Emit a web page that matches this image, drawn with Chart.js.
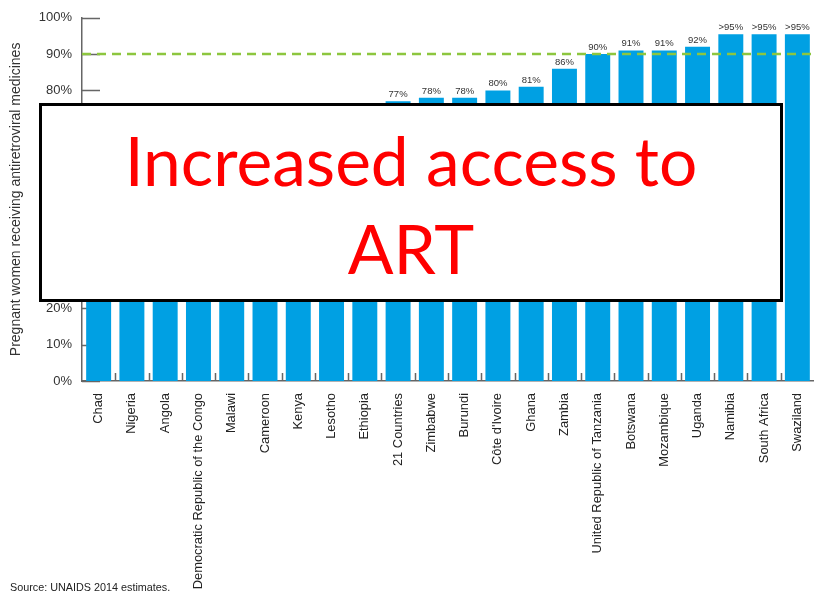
<!DOCTYPE html>
<html>
<head>
<meta charset="utf-8">
<script src="https://cdn.jsdelivr.net/npm/chart.js@4.4.1/dist/chart.umd.min.js"></script>
<style>
  html, body { margin: 0; padding: 0; background: #fff; }
  #wrap { position: relative; width: 814px; height: 592px; overflow: hidden; }
  #myChart { position: absolute; left: 0; top: 0; }
  #banner {
    position: absolute; left: 39px; top: 103px; width: 744px; height: 199px;
    box-sizing: border-box; border: 3px solid #000; background: #fff;
    color: #ff0000; font-family: Lato, "Open Sans", sans-serif; font-size: 67.7px;
    line-height: 88px; text-align: center; padding-top: 10px;
  }
  #source {
    position: absolute; left: 10px; top: 581px;
    font-family: "Liberation Sans", Arial, sans-serif; font-size: 10.8px; color: #222;
  }
</style>
</head>
<body>
<div id="wrap">
  <canvas id="myChart" width="814" height="592"></canvas>
  <div id="banner">Increased access to<br>ART</div>
  <div id="source">Source: UNAIDS 2014 estimates.</div>
</div>
<script>
// Countries, sorted by coverage
const countries = [
    "Chad", "Nigeria", "Angola", "Democratic Republic of the Congo", "Malawi",
    "Cameroon", "Kenya", "Lesotho", "Ethiopia", "21 Countries", "Zimbabwe",
    "Burundi", "Côte d'Ivoire", "Ghana", "Zambia", "United Republic of Tanzania",
    "Botswana", "Mozambique", "Uganda", "Namibia", "South Africa", "Swaziland"
];
// % of pregnant women receiving antiretroviral medicines
const coverage = [26, 27, 38, 46, 55, 62, 66, 69, 73, 77, 78, 78, 80, 81, 86, 90, 91, 91, 92, 95.5, 95.5, 95.5];
const yTicks = [0, 10, 20, 30, 40, 50, 60, 70, 80, 90, 100];
const target = 90;

const barColor = "#00a0e3";
const axisColor = "#666";
const font = "Liberation Sans";

function pctLabel(v) {
    return v > 95 ? ">95%" : Math.round(v) + "%";
}

// inward tick marks on both axes, drawn behind the bars
const innerTicks = {
    id: "innerTicks",
    beforeDatasetsDraw(chart) {
        const { ctx, chartArea, scales } = chart;
        ctx.save();
        ctx.strokeStyle = axisColor;
        ctx.lineWidth = 1.5;
        ctx.beginPath();
        yTicks.forEach(t => {
            const y = Math.round(scales.y.getPixelForValue(t)) + 0.5;
            ctx.moveTo(chartArea.left, y);
            ctx.lineTo(chartArea.left + 18, y);
        });
        for (let i = 0; i < countries.length - 1; i++) {
            const x = Math.round((scales.x.getPixelForTick(i) + scales.x.getPixelForTick(i + 1)) / 2) + 0.5;
            ctx.moveTo(x, chartArea.bottom);
            ctx.lineTo(x, chartArea.bottom - 8);
        }
        ctx.stroke();
        ctx.restore();
    }
};

// value labels above the bars, then the dashed target line
const barLabels = {
    id: "barLabels",
    afterDatasetsDraw(chart) {
        const { ctx, chartArea, scales } = chart;
        const meta = chart.getDatasetMeta(0);
        ctx.save();
        ctx.fillStyle = "#333";
        ctx.font = "9.5px 'Liberation Sans Narrow', 'Liberation Sans', sans-serif";
        ctx.textAlign = "center";
        ctx.textBaseline = "alphabetic";
        meta.data.forEach((bar, i) => {
            ctx.fillText(pctLabel(coverage[i]), bar.x, bar.y - 4);
        });

        const y = scales.y.getPixelForValue(target);
        ctx.strokeStyle = "#8dc63f";
        ctx.lineWidth = 2.5;
        ctx.setLineDash([9, 6]);
        ctx.beginPath();
        ctx.moveTo(chartArea.left, y);
        ctx.lineTo(chartArea.right, y);
        ctx.stroke();
        ctx.restore();
    }
};

const config = {
    type: "bar",
    data: {
        labels: countries,
        datasets: [{
            data: coverage,
            backgroundColor: barColor,
            borderWidth: 0,
            categoryPercentage: 1,
            barPercentage: 0.75
        }]
    },
    options: {
        responsive: false,
        animation: false,
        events: [],
        layout: { padding: { top: 17, right: 0, left: 0, bottom: 0 } },
        plugins: {
            legend: { display: false },
            tooltip: { enabled: false }
        },
        scales: {
            x: {
                grid: { display: false, drawTicks: false },
                border: { display: true, color: axisColor, width: 1.5 },
                ticks: {
                    autoSkip: false,
                    minRotation: 90,
                    maxRotation: 90,
                    padding: 12,
                    color: "#222",
                    font: { family: font, size: 12.9 }
                },
                afterFit(scale) {
                    scale.height = 211;
                    // let the last bar run to the canvas edge
                    scale.paddingLeft = 0;
                    scale.paddingRight = 0;
                }
            },
            y: {
                min: 0,
                max: 100,
                afterBuildTicks(scale) { scale.ticks = yTicks.map(v => ({ value: v })); },
                grid: { display: false, drawTicks: false },
                border: { display: true, color: axisColor, width: 1.5 },
                ticks: {
                    padding: 10,
                    color: "#333",
                    font: { family: font, size: 13 },
                    callback: v => v + "%"
                },
                title: {
                    display: true,
                    text: "Pregnant women receiving antiretroviral medicines",
                    color: "#333",
                    font: { family: font, size: 14 },
                    padding: { top: 8, bottom: 0 }
                },
                afterFit(scale) { scale.width = 82; }
            }
        }
    },
    plugins: [innerTicks, barLabels]
};

const ctx = document.getElementById("myChart").getContext("2d");
const myChart = new Chart(ctx, config);
</script>
</body>
</html>
